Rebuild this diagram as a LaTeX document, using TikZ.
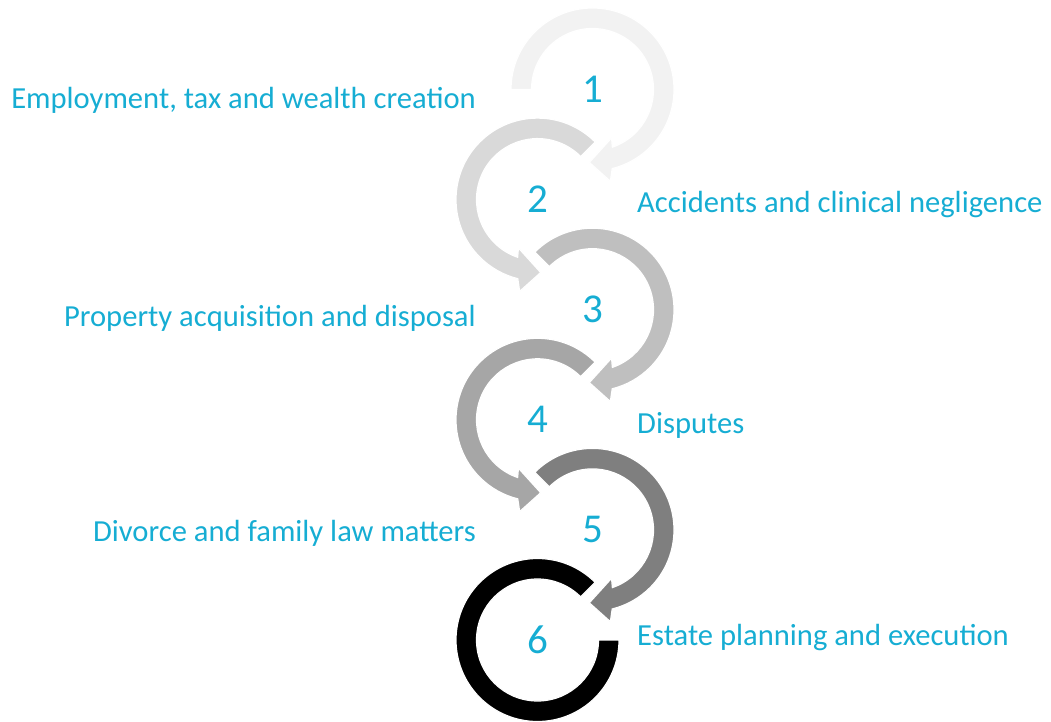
\documentclass[tikz,border=0pt]{standalone}
\usepackage{fontspec}
\setmainfont{Carlito}

\definecolor{labelblue}{RGB}{22,173,211}
\definecolor{ringa}{HTML}{F2F2F2}
\definecolor{ringb}{HTML}{D9D9D9}
\definecolor{ringc}{HTML}{BFBFBF}
\definecolor{ringd}{HTML}{A6A6A6}
\definecolor{ringe}{HTML}{7F7F7F}
\definecolor{ringf}{HTML}{000000}

\tikzset{
  ringpiece/.style={draw=white, line width=1.2pt},
  steplabel/.style={text=labelblue, inner sep=0pt, font=\fontsize{30.6}{36}\selectfont},
  stepnum/.style={text=labelblue, inner sep=0pt, font=\fontsize{41}{48}\selectfont},
}

\begin{document}
\begin{tikzpicture}[x=1pt,y=1pt]
    \useasboundingbox (0,0) rectangle (1051,721);

    % Ring radii
    \def\Ro{81.5}
    \def\Ri{61}

    % Rings turning clockwise (1, 3, 5)
    \foreach \cx/\cy/\s/\col in {592.5/631.5/180/ringa, 592.5/411.3/135/ringc, 592.5/191.1/135/ringe}{
        \fill[\col, ringpiece, shift={(\cx,\cy)}]
            (\s:\Ro) arc[start angle=\s, end angle=-76, radius=\Ro]
            -- (-79:93.5) -- (-92.5:73) -- (-68.5:52)
            -- (-71:\Ri) arc[start angle=-71, end angle=\s, radius=\Ri] -- cycle;
    }

    % Rings turning anticlockwise (2, 4)
    \foreach \cx/\cy/\col in {537.5/521.4/ringb, 537.5/301.2/ringd}{
        \fill[\col, ringpiece, shift={(\cx,\cy)}]
            (45:\Ro) arc[start angle=45, end angle=256, radius=\Ro]
            -- (259:93.5) -- (272.5:73) -- (248.5:52)
            -- (251:\Ri) arc[start angle=251, end angle=45, radius=\Ri] -- cycle;
    }

    % Last ring, no arrow head
    \fill[ringf, ringpiece, shift={(537.5,81)}]
        (45:\Ro) arc[start angle=45, end angle=360, radius=\Ro]
        -- (0:\Ri) arc[start angle=360, end angle=45, radius=\Ri] -- cycle;

    % Numbers
    \node[stepnum] (num1) at (592.5,631.5) {1};
    \node[stepnum] (num2) at (537.5,521.4) {2};
    \node[stepnum] (num3) at (592.5,411.3) {3};
    \node[stepnum] (num4) at (537.5,301.2) {4};
    \node[stepnum] (num5) at (592.5,191.1) {5};
    \node[stepnum] (num6) at (537.5,81) {6};

    % Labels
    \node[steplabel, anchor=base east] (lab1) at (476,612.7) {Employment, tax and wealth creation};
    \node[steplabel, anchor=base west] (lab2) at (637,508) {Accidents and clinical negligence};
    \node[steplabel, anchor=base east] (lab3) at (476,394.3) {Property acquisition and disposal};
    \node[steplabel, anchor=base west] (lab4) at (637,287.7) {Disputes};
    \node[steplabel, anchor=base east] (lab5) at (476,179.3) {Divorce and family law matters};
    \node[steplabel, anchor=base west] (lab6) at (637,76) {Estate planning and execution};

\end{tikzpicture}
\end{document}
